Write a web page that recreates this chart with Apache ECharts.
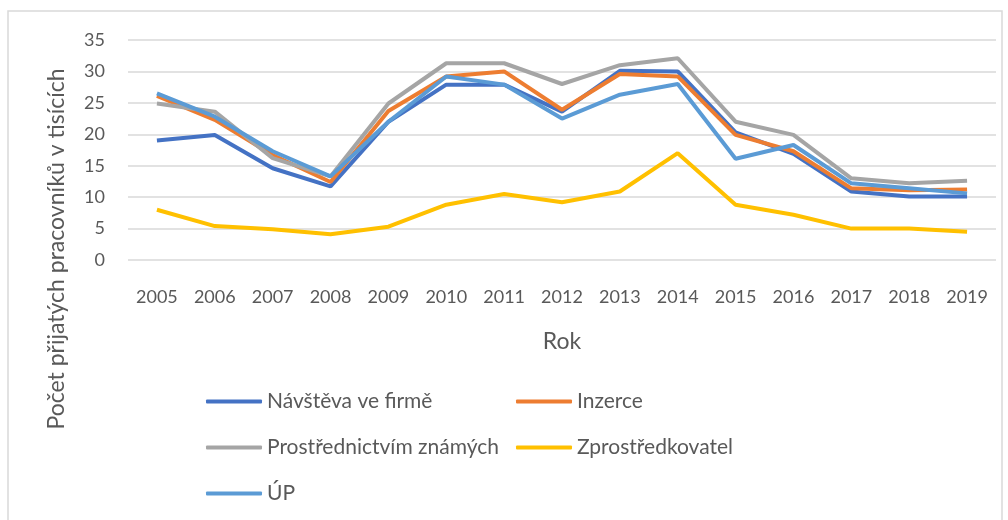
<!DOCTYPE html>
<html>
<head>
<meta charset="utf-8">
<script src="https://cdn.jsdelivr.net/npm/echarts@6/dist/echarts.min.js"></script>
<style>
  html, body { margin: 0; padding: 0; background: #fff; }
  #main { width: 1008px; height: 520px; }
</style>
</head>
<body>
<div id="main"></div>
<script>
var years = ["2005", "2006", "2007", "2008", "2009", "2010", "2011", "2012", "2013", "2014", "2015", "2016", "2017", "2018", "2019"];
var navsteva = [19.0, 19.9, 14.6, 11.7, 22.0, 27.9, 27.9, 23.6, 30.1, 30.0, 20.3, 16.9, 10.9, 10.1, 10.1];
var inzerce = [26.1, 22.3, 16.7, 12.4, 23.7, 29.2, 30.0, 23.9, 29.6, 29.2, 19.9, 17.3, 11.4, 11.1, 11.2];
var znamych = [24.9, 23.6, 16.2, 13.3, 24.9, 31.3, 31.3, 28.0, 31.0, 32.1, 22.0, 19.9, 13.0, 12.2, 12.6];
var zprostredkovatel = [8.0, 5.4, 4.9, 4.1, 5.3, 8.8, 10.5, 9.2, 10.9, 17.0, 8.8, 7.2, 5.0, 5.0, 4.5];
var up = [26.5, 22.8, 17.3, 13.3, 22.0, 29.2, 27.9, 22.5, 26.3, 28.0, 16.1, 18.3, 12.2, 11.4, 10.6];

var font = "Lato";
var chartDom = document.getElementById("main");
var myChart = echarts.init(chartDom);

function line(name, data, color) {
  return {
    name: name,
    type: "line",
    data: data,
    symbol: "none",
    animation: false,
    lineStyle: { width: 4, color: color },
    itemStyle: { color: color },
  };
}

var legendText = { fontFamily: font, fontSize: 21, color: "#595959" };

var option = {
  backgroundColor: "#fff",
  grid: { left: 128, right: 12, top: 40, bottom: 260 },
  xAxis: {
    type: "category",
    data: years,
    boundaryGap: true,
    name: "Rok",
    nameLocation: "middle",
    nameGap: 70,
    nameTextStyle: { fontFamily: font, fontSize: 23, color: "#595959" },
    axisLine: { show: false },
    axisTick: { show: false },
    axisLabel: { fontFamily: font, fontSize: 18, color: "#595959", margin: 28, interval: 0 },
  },
  yAxis: {
    type: "value",
    min: 0,
    max: 35,
    interval: 5,
    axisLine: { show: false },
    axisTick: { show: false },
    axisLabel: { fontFamily: font, fontSize: 18, color: "#595959", margin: 23 },
    splitLine: { lineStyle: { color: "#D9D9D9", width: 1.5 } },
  },
  legend: [
    {
      orient: "vertical",
      left: 201,
      top: 386,
      itemWidth: 56,
      itemHeight: 4,
      itemGap: 25,
      icon: "roundRect",
      textStyle: legendText,
      data: ["Návštěva ve firmě", "Prostřednictvím známých", "ÚP"],
    },
    {
      orient: "vertical",
      left: 511,
      top: 386,
      itemWidth: 56,
      itemHeight: 4,
      itemGap: 25,
      icon: "roundRect",
      textStyle: legendText,
      data: ["Inzerce", "Zprostředkovatel"],
    },
  ],
  graphic: [
    {
      type: "rect",
      shape: { x: 8, y: 11, width: 994, height: 520 },
      style: { fill: "none", stroke: "#D9D9D9", lineWidth: 1.5 },
      silent: true,
    },
    {
      type: "text",
      x: 57,
      y: 249,
      rotation: Math.PI / 2,
      style: {
        text: "Počet přijatých pracovníků v tisících",
        fontFamily: font,
        fontSize: 23,
        fill: "#595959",
        align: "center",
        verticalAlign: "middle",
      },
    },
  ],
  series: [
    line("Návštěva ve firmě", navsteva, "#4472C4"),
    line("Inzerce", inzerce, "#ED7D31"),
    line("Prostřednictvím známých", znamych, "#A5A5A5"),
    line("Zprostředkovatel", zprostredkovatel, "#FFC000"),
    line("ÚP", up, "#5B9BD5"),
  ],
};

option && myChart.setOption(option);
</script>
</body>
</html>
